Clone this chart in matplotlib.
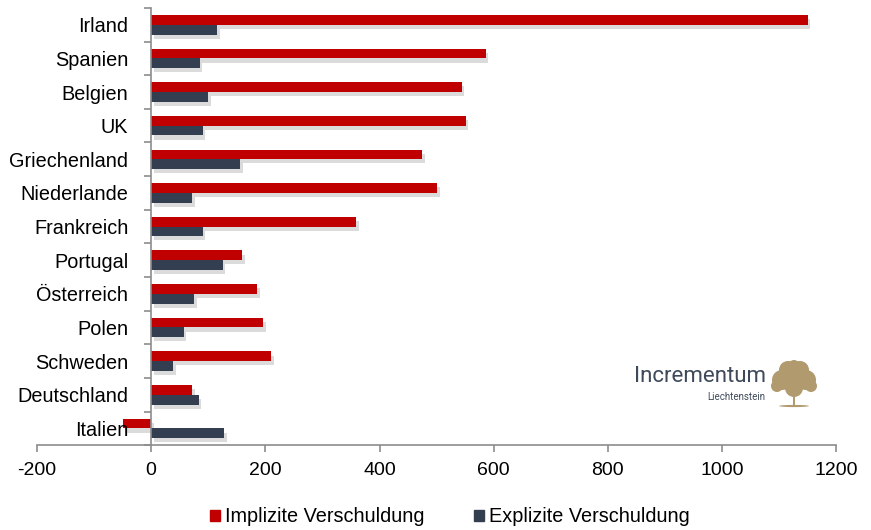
import numpy as np
import matplotlib
matplotlib.use("Agg")
from matplotlib import pyplot as plt
from matplotlib import patheffects as pe
from matplotlib.patches import Ellipse, Rectangle, Circle, Patch

countries = ['Irland', 'Spanien', 'Belgien', 'UK', 'Griechenland', 'Niederlande',
             'Frankreich', 'Portugal', 'Österreich', 'Polen', 'Schweden',
             'Deutschland', 'Italien']
implizit = [1150, 586, 544, 551, 475, 501, 359, 159, 186, 196, 210, 72, -50]
explizit = [116, 85, 100, 90, 156, 72, 90, 125, 75, 57, 39, 83, 128]
xticks = [-200, 0, 200, 400, 600, 800, 1000, 1200]

red = '#C00000'
dark = '#333F50'
grey = '#8C8C8C'

plt.rcParams['font.family'] = ['Liberation Sans', 'DejaVu Sans']

fig = plt.figure(figsize=(8.71, 5.30), dpi=100)
ax = fig.add_axes([0.0425, 0.160, 0.9175, 0.825])

# spines first: moving a spine resets the ticks
for s in ['top', 'right']:
    ax.spines[s].set_visible(False)
ax.spines['left'].set_position(('data', 0))
ax.spines['left'].set_color(grey)
ax.spines['bottom'].set_color(grey)
ax.spines['left'].set_linewidth(1.2)
ax.spines['bottom'].set_linewidth(1.2)

y = np.arange(len(countries))
h = 0.29
shadow = [pe.SimplePatchShadow(offset=(2, -3), shadow_rgbFace='#888888', alpha=0.3), pe.Normal()]
b1 = ax.barh(y - h / 2, implizit, height=h, color=red)
b2 = ax.barh(y + h / 2, explizit, height=h, color=dark)
for bar in list(b1) + list(b2):
    bar.set_path_effects(shadow)

ax.set_xlim(-200, 1200)
ax.set_ylim(len(countries) - 0.5, -0.5)
ax.set_xticks(xticks)
ax.set_xticklabels([str(v) for v in xticks])
ax.set_yticks(y)
ax.set_yticklabels(countries)
ax.set_yticks(np.arange(len(countries) + 1) - 0.5, minor=True)
ax.tick_params(axis='y', which='major', length=0, pad=16.5, labelsize=14.3)
ax.tick_params(axis='y', which='minor', length=5, color=grey, width=1.2)
ax.tick_params(axis='x', length=5, color=grey, width=1.2, pad=7, labelsize=14)

# logo
fig.text(634 / 871, 1 - 377 / 530, 'Incrementum', fontsize=16, color='#3E4A5A',
         ha='left', va='center', family='Roboto')
fig.text(765 / 871, 1 - 397 / 530, 'Liechtenstein', fontsize=7, color='#3E4A5A',
         ha='right', va='center', family='Roboto')
lax = fig.add_axes([768 / 871, 1 - 410 / 530, 52 / 871, 50 / 530])
lax.set_xlim(0, 52)
lax.set_ylim(0, 50)
lax.axis('off')
tan = '#B09A6E'
for cx, cy, r in [(26, 32, 14), (14, 30, 10), (38, 30, 10), (20, 40, 9), (32, 40, 9),
                  (9, 24, 6), (43, 24, 6), (26, 44, 6), (26, 22, 9)]:
    lax.add_patch(Circle((cx, cy), r, color=tan, lw=0))
lax.add_patch(Rectangle((24.8, 4), 2.4, 14, color=tan, lw=0))
lax.add_patch(Ellipse((26, 4), 30, 2.2, color=tan, lw=0))

handles = [Patch(color=red), Patch(color=dark)]
fig.legend(handles, ['Implizite Verschuldung', 'Explizite Verschuldung'], loc='center',
           bbox_to_anchor=(450 / 871, 1 - 517 / 530), ncol=2, frameon=False,
           fontsize=14.3, handlelength=0.5, handleheight=0.5, handletextpad=0.25,
           columnspacing=2.5)

fig.savefig('out.png', dpi=100)
